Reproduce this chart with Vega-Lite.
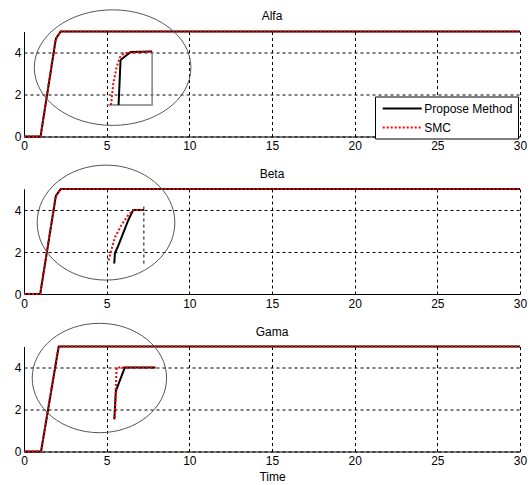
{
  "$schema": "https://vega.github.io/schema/vega-lite/v6.json",
  "padding": {"left": 14, "top": 7.5, "right": 4, "bottom": 2},
  "background": "white",
  "config": {
    "font": "Liberation Sans",
    "view": {"stroke": null},
    "title": {"fontSize": 12, "fontWeight": "normal", "color": "black", "anchor": "middle"},
    "axis": {
      "grid": true, "gridColor": "black", "gridDash": [3, 3], "gridOpacity": 1, "gridWidth": 1,
      "domainColor": "black", "domainWidth": 1, "ticks": false,
      "labelFontSize": 12, "labelColor": "black", "labelFlush": false,
      "titleFontSize": 12, "titleFontWeight": "normal", "titleColor": "black"
    },
    "legend": {
      "orient": "none", "legendX": 351, "legendY": 65,
      "fillColor": "white", "strokeColor": "black", "padding": 5, "cornerRadius": 0,
      "symbolType": "M -0.717 0 L 5.78 0", "symbolSize": 144, "symbolStrokeWidth": 2,
      "labelFontSize": 12, "labelColor": "black", "labelOffset": 30.3, "rowPadding": 6
    }
  },
  "datasets": {
    "main": [
      {"panel": "Alfa", "series": "Propose Method", "t": 0, "y": 0},
      {"panel": "Alfa", "series": "Propose Method", "t": 1, "y": 0},
      {"panel": "Alfa", "series": "Propose Method", "t": 1.93, "y": 4.66},
      {"panel": "Alfa", "series": "Propose Method", "t": 2.22, "y": 5},
      {"panel": "Alfa", "series": "Propose Method", "t": 30, "y": 5},
      {"panel": "Alfa", "series": "SMC", "t": 0, "y": 0},
      {"panel": "Alfa", "series": "SMC", "t": 1, "y": 0},
      {"panel": "Alfa", "series": "SMC", "t": 1.9, "y": 4.6},
      {"panel": "Alfa", "series": "SMC", "t": 2.2, "y": 5},
      {"panel": "Alfa", "series": "SMC", "t": 30, "y": 5},
      {"panel": "Beta", "series": "Propose Method", "t": 0, "y": 0},
      {"panel": "Beta", "series": "Propose Method", "t": 0.98, "y": 0},
      {"panel": "Beta", "series": "Propose Method", "t": 1.93, "y": 4.68},
      {"panel": "Beta", "series": "Propose Method", "t": 2.22, "y": 5},
      {"panel": "Beta", "series": "Propose Method", "t": 30, "y": 5},
      {"panel": "Beta", "series": "SMC", "t": 0, "y": 0},
      {"panel": "Beta", "series": "SMC", "t": 0.98, "y": 0},
      {"panel": "Beta", "series": "SMC", "t": 1.9, "y": 4.6},
      {"panel": "Beta", "series": "SMC", "t": 2.2, "y": 5},
      {"panel": "Beta", "series": "SMC", "t": 30, "y": 5},
      {"panel": "Gama", "series": "Propose Method", "t": 0, "y": 0},
      {"panel": "Gama", "series": "Propose Method", "t": 1.03, "y": 0},
      {"panel": "Gama", "series": "Propose Method", "t": 2.1, "y": 5},
      {"panel": "Gama", "series": "Propose Method", "t": 30, "y": 5},
      {"panel": "Gama", "series": "SMC", "t": 0, "y": 0},
      {"panel": "Gama", "series": "SMC", "t": 1.03, "y": 0},
      {"panel": "Gama", "series": "SMC", "t": 2.08, "y": 5},
      {"panel": "Gama", "series": "SMC", "t": 30, "y": 5}
    ],
    "inset": [
      {"panel": "Alfa", "part": "box", "t": 5, "y": 1.5},
      {"panel": "Alfa", "part": "box", "t": 7.75, "y": 1.5},
      {"panel": "Alfa", "part": "box", "t": 7.75, "y": 4.05},
      {"panel": "Alfa", "part": "black", "t": 5.72, "y": 1.5},
      {"panel": "Alfa", "part": "black", "t": 5.84, "y": 3.64},
      {"panel": "Alfa", "part": "black", "t": 6.45, "y": 4.02},
      {"panel": "Alfa", "part": "black", "t": 7.75, "y": 4.05},
      {"panel": "Alfa", "part": "red", "t": 5.26, "y": 1.5},
      {"panel": "Alfa", "part": "red", "t": 5.4, "y": 2.5},
      {"panel": "Alfa", "part": "red", "t": 5.6, "y": 3.3},
      {"panel": "Alfa", "part": "red", "t": 5.8, "y": 3.77},
      {"panel": "Alfa", "part": "red", "t": 6.05, "y": 3.97},
      {"panel": "Alfa", "part": "red", "t": 7.75, "y": 4.05},
      {"panel": "Beta", "part": "dash", "t": 7.25, "y": 1.45},
      {"panel": "Beta", "part": "dash", "t": 7.25, "y": 4.3},
      {"panel": "Beta", "part": "black", "t": 5.46, "y": 1.45},
      {"panel": "Beta", "part": "black", "t": 5.5, "y": 1.95},
      {"panel": "Beta", "part": "black", "t": 5.65, "y": 2.2},
      {"panel": "Beta", "part": "black", "t": 6.0, "y": 2.9},
      {"panel": "Beta", "part": "black", "t": 6.3, "y": 3.5},
      {"panel": "Beta", "part": "black", "t": 6.6, "y": 4.0},
      {"panel": "Beta", "part": "black", "t": 7.25, "y": 4.0},
      {"panel": "Beta", "part": "red", "t": 5.12, "y": 1.6},
      {"panel": "Beta", "part": "red", "t": 5.25, "y": 2.0},
      {"panel": "Beta", "part": "red", "t": 5.5, "y": 2.7},
      {"panel": "Beta", "part": "red", "t": 5.9, "y": 3.3},
      {"panel": "Beta", "part": "red", "t": 6.3, "y": 3.75},
      {"panel": "Beta", "part": "red", "t": 6.6, "y": 4.0},
      {"panel": "Beta", "part": "red", "t": 7.25, "y": 4.0},
      {"panel": "Gama", "part": "black", "t": 5.46, "y": 1.53},
      {"panel": "Gama", "part": "black", "t": 5.56, "y": 2.89},
      {"panel": "Gama", "part": "black", "t": 6.1, "y": 4.0},
      {"panel": "Gama", "part": "black", "t": 7.95, "y": 4.0},
      {"panel": "Gama", "part": "red", "t": 5.5, "y": 1.6},
      {"panel": "Gama", "part": "red", "t": 5.55, "y": 3.0},
      {"panel": "Gama", "part": "red", "t": 5.6, "y": 4.0},
      {"panel": "Gama", "part": "red", "t": 7.95, "y": 4.0}
    ],
    "ell": [
      {"panel": "Alfa", "t": 5.36, "y": 3.28},
      {"panel": "Beta", "t": 4.96, "y": 3.4},
      {"panel": "Gama", "t": 4.56, "y": 3.5}
    ]
  },
  "spacing": 52.5,
  "bounds": "flush",
  "vconcat": [
    {
      "width": 496, "height": 105,
      "title": {"text": "Alfa", "offset": -15},
      "encoding": {
        "x": {"field": "t", "type": "quantitative", "scale": {"domain": [0, 30], "nice": false}, "axis": {"values": [0, 5, 10, 15, 20, 25, 30], "title": null, "labelPadding": 4}},
        "y": {"field": "y", "type": "quantitative", "scale": {"domain": [0, 5], "nice": false}, "axis": {"values": [0, 2, 4], "title": null, "labelPadding": 3}}
      },
      "layer": [
        {"data": {"name": "main"}, "transform": [{"filter": "datum.panel == 'Alfa' && datum.series == 'Propose Method'"}],
         "mark": {"type": "line", "strokeWidth": 2},
         "encoding": {"order": {"value": null},
           "color": {"field": "series", "type": "nominal", "scale": {"domain": ["Propose Method", "SMC"], "range": ["black", "red"]}, "legend": {"title": null}},
           "strokeDash": {"field": "series", "type": "nominal", "scale": {"domain": ["Propose Method", "SMC"], "range": [[1, 0], [2, 2]]}, "legend": {"title": null}}}},
        {"data": {"name": "main"}, "transform": [{"filter": "datum.panel == 'Alfa' && datum.series == 'SMC'"}],
         "mark": {"type": "line", "strokeWidth": 2},
         "encoding": {"order": {"value": null},
           "color": {"field": "series", "type": "nominal", "scale": {"domain": ["Propose Method", "SMC"], "range": ["black", "red"]}, "legend": {"title": null}},
           "strokeDash": {"field": "series", "type": "nominal", "scale": {"domain": ["Propose Method", "SMC"], "range": [[1, 0], [2, 2]]}, "legend": {"title": null}}}},
        {"data": {"name": "inset"}, "transform": [{"filter": "datum.panel == 'Alfa' && datum.part == 'box'"}],
         "mark": {"type": "line", "strokeWidth": 1.5, "color": "#808080"}, "encoding": {"order": {"value": null}}},
        {"data": {"name": "inset"}, "transform": [{"filter": "datum.panel == 'Alfa' && datum.part == 'black'"}],
         "mark": {"type": "line", "strokeWidth": 2, "color": "black"}, "encoding": {"order": {"value": null}}},
        {"data": {"name": "inset"}, "transform": [{"filter": "datum.panel == 'Alfa' && datum.part == 'red'"}],
         "mark": {"type": "line", "strokeWidth": 2, "color": "red", "strokeDash": [2, 2]}, "encoding": {"order": {"value": null}}},
        {"data": {"name": "ell"}, "transform": [{"filter": "datum.panel == 'Alfa'"}],
         "mark": {"type": "point", "shape": "M -1 0 A 1 0.738 0 1 1 1 0 A 1 0.738 0 1 1 -1 0 Z", "size": 24524, "filled": false, "stroke": "#555555", "strokeWidth": 1, "opacity": 1}}
      ]
    },
    {
      "width": 496, "height": 105,
      "title": {"text": "Beta", "offset": -17.5},
      "encoding": {
        "x": {"field": "t", "type": "quantitative", "scale": {"domain": [0, 30], "nice": false}, "axis": {"values": [0, 5, 10, 15, 20, 25, 30], "title": null, "labelPadding": 4}},
        "y": {"field": "y", "type": "quantitative", "scale": {"domain": [0, 5], "nice": false}, "axis": {"values": [0, 2, 4], "title": null, "labelPadding": 3}}
      },
      "layer": [
        {"data": {"name": "main"}, "transform": [{"filter": "datum.panel == 'Beta' && datum.series == 'Propose Method'"}],
         "mark": {"type": "line", "strokeWidth": 2},
         "encoding": {"order": {"value": null},
           "color": {"field": "series", "type": "nominal", "scale": {"domain": ["Propose Method", "SMC"], "range": ["black", "red"]}, "legend": {"title": null}},
           "strokeDash": {"field": "series", "type": "nominal", "scale": {"domain": ["Propose Method", "SMC"], "range": [[1, 0], [2, 2]]}, "legend": {"title": null}}}},
        {"data": {"name": "main"}, "transform": [{"filter": "datum.panel == 'Beta' && datum.series == 'SMC'"}],
         "mark": {"type": "line", "strokeWidth": 2},
         "encoding": {"order": {"value": null},
           "color": {"field": "series", "type": "nominal", "scale": {"domain": ["Propose Method", "SMC"], "range": ["black", "red"]}, "legend": {"title": null}},
           "strokeDash": {"field": "series", "type": "nominal", "scale": {"domain": ["Propose Method", "SMC"], "range": [[1, 0], [2, 2]]}, "legend": {"title": null}}}},
        {"data": {"name": "inset"}, "transform": [{"filter": "datum.panel == 'Beta' && datum.part == 'dash'"}],
         "mark": {"type": "line", "strokeWidth": 1, "color": "black", "strokeDash": [3, 3]}, "encoding": {"order": {"value": null}}},
        {"data": {"name": "inset"}, "transform": [{"filter": "datum.panel == 'Beta' && datum.part == 'black'"}],
         "mark": {"type": "line", "strokeWidth": 2, "color": "black"}, "encoding": {"order": {"value": null}}},
        {"data": {"name": "inset"}, "transform": [{"filter": "datum.panel == 'Beta' && datum.part == 'red'"}],
         "mark": {"type": "line", "strokeWidth": 2, "color": "red", "strokeDash": [2, 2]}, "encoding": {"order": {"value": null}}},
        {"data": {"name": "ell"}, "transform": [{"filter": "datum.panel == 'Beta'"}],
         "mark": {"type": "point", "shape": "M -1 0 A 1 0.835 0 1 1 1 0 A 1 0.835 0 1 1 -1 0 Z", "size": 18961, "filled": false, "stroke": "#555555", "strokeWidth": 1, "opacity": 1}}
      ]
    },
    {
      "width": 496, "height": 105,
      "title": {"text": "Gama", "offset": -17.5},
      "encoding": {
        "x": {"field": "t", "type": "quantitative", "scale": {"domain": [0, 30], "nice": false}, "axis": {"values": [0, 5, 10, 15, 20, 25, 30], "title": "Time", "labelPadding": 4, "titlePadding": 5}},
        "y": {"field": "y", "type": "quantitative", "scale": {"domain": [0, 5], "nice": false}, "axis": {"values": [0, 2, 4], "title": null, "labelPadding": 3}}
      },
      "layer": [
        {"data": {"name": "main"}, "transform": [{"filter": "datum.panel == 'Gama' && datum.series == 'Propose Method'"}],
         "mark": {"type": "line", "strokeWidth": 2},
         "encoding": {"order": {"value": null},
           "color": {"field": "series", "type": "nominal", "scale": {"domain": ["Propose Method", "SMC"], "range": ["black", "red"]}, "legend": {"title": null}},
           "strokeDash": {"field": "series", "type": "nominal", "scale": {"domain": ["Propose Method", "SMC"], "range": [[1, 0], [2, 2]]}, "legend": {"title": null}}}},
        {"data": {"name": "main"}, "transform": [{"filter": "datum.panel == 'Gama' && datum.series == 'SMC'"}],
         "mark": {"type": "line", "strokeWidth": 2},
         "encoding": {"order": {"value": null},
           "color": {"field": "series", "type": "nominal", "scale": {"domain": ["Propose Method", "SMC"], "range": ["black", "red"]}, "legend": {"title": null}},
           "strokeDash": {"field": "series", "type": "nominal", "scale": {"domain": ["Propose Method", "SMC"], "range": [[1, 0], [2, 2]]}, "legend": {"title": null}}}},
        {"data": {"name": "inset"}, "transform": [{"filter": "datum.panel == 'Gama' && datum.part == 'black'"}],
         "mark": {"type": "line", "strokeWidth": 2, "color": "black"}, "encoding": {"order": {"value": null}}},
        {"data": {"name": "inset"}, "transform": [{"filter": "datum.panel == 'Gama' && datum.part == 'red'"}],
         "mark": {"type": "line", "strokeWidth": 2, "color": "red", "strokeDash": [2, 2]}, "encoding": {"order": {"value": null}}},
        {"data": {"name": "ell"}, "transform": [{"filter": "datum.panel == 'Gama'"}],
         "mark": {"type": "point", "shape": "M -1 0 A 1 0.814 0 1 1 1 0 A 1 0.814 0 1 1 -1 0 Z", "size": 18063, "filled": false, "stroke": "#555555", "strokeWidth": 1, "opacity": 1}}
      ]
    }
  ]
}
